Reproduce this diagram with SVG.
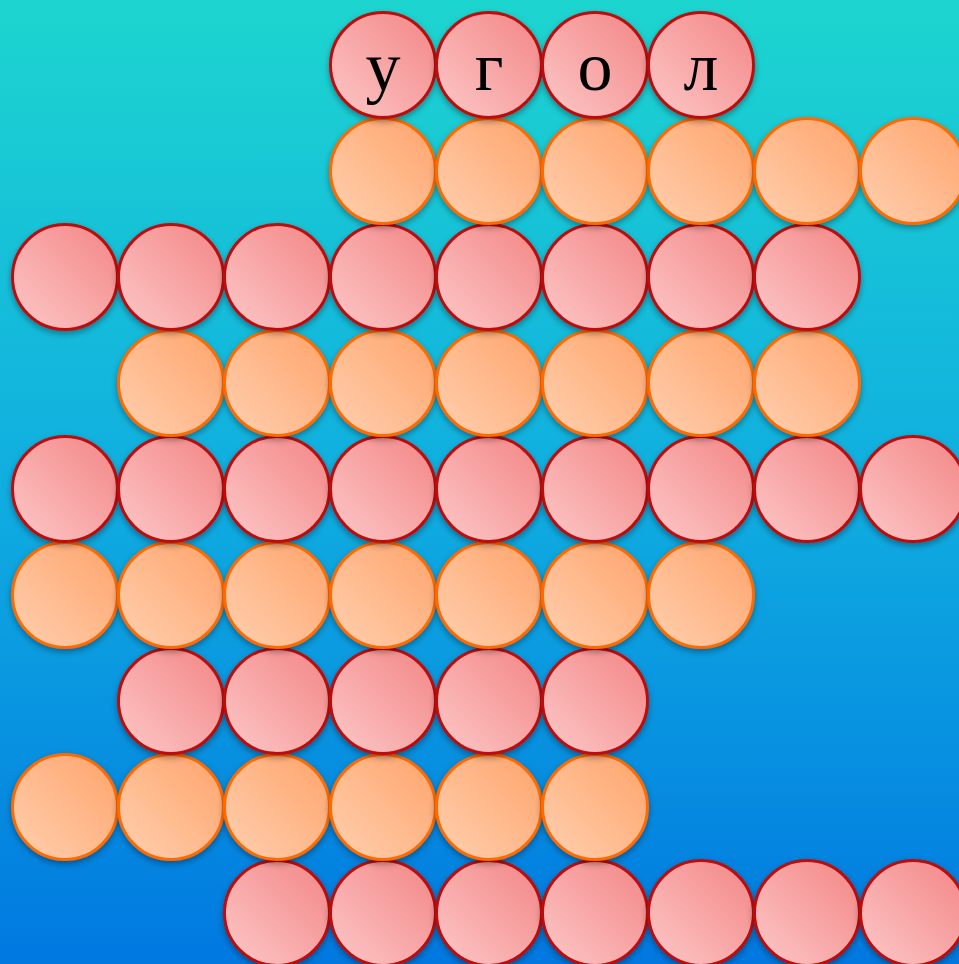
<svg xmlns="http://www.w3.org/2000/svg" width="959" height="964" viewBox="0 0 959 964">
<defs>
<linearGradient id="bg" x1="0" y1="0" x2="0" y2="1">
<stop offset="0" stop-color="#1dd5cf"/>
<stop offset="0.5" stop-color="#10aee0"/>
<stop offset="1" stop-color="#0078e0"/>
</linearGradient>
<linearGradient id="gp" x1="1" y1="0" x2="0" y2="1">
<stop offset="0" stop-color="#f38585"/>
<stop offset="1" stop-color="#fdc8c8"/>
</linearGradient>
<linearGradient id="go" x1="1" y1="0" x2="0" y2="1">
<stop offset="0" stop-color="#ffa36a"/>
<stop offset="1" stop-color="#ffd0b0"/>
</linearGradient>
<filter id="sh" x="-20%" y="-20%" width="140%" height="150%">
<feDropShadow dx="0" dy="3" stdDeviation="3" flood-color="#000" flood-opacity="0.35"/>
</filter>
</defs>
<style>
.p{fill:url(#gp);stroke:#bb0a0a;stroke-width:3;filter:url(#sh)}
.o{fill:url(#go);stroke:#ff6a00;stroke-width:3;filter:url(#sh)}
.t{font-family:"Liberation Serif","DejaVu Serif",serif;font-size:70px;fill:#000;text-anchor:middle}
</style>
<rect width="959" height="964" fill="url(#bg)"/>
<g id="row8">
<circle class="p" cx="277" cy="913" r="52.5"/><circle class="p" cx="383" cy="913" r="52.5"/><circle class="p" cx="489" cy="913" r="52.5"/><circle class="p" cx="595" cy="913" r="52.5"/><circle class="p" cx="701" cy="913" r="52.5"/><circle class="p" cx="807" cy="913" r="52.5"/><circle class="p" cx="913" cy="913" r="52.5"/>
</g>
<g id="row7">
<circle class="o" cx="65" cy="807" r="52.5"/><circle class="o" cx="171" cy="807" r="52.5"/><circle class="o" cx="277" cy="807" r="52.5"/><circle class="o" cx="383" cy="807" r="52.5"/><circle class="o" cx="489" cy="807" r="52.5"/><circle class="o" cx="595" cy="807" r="52.5"/>
</g>
<g id="row6">
<circle class="p" cx="171" cy="701" r="52.5"/><circle class="p" cx="277" cy="701" r="52.5"/><circle class="p" cx="383" cy="701" r="52.5"/><circle class="p" cx="489" cy="701" r="52.5"/><circle class="p" cx="595" cy="701" r="52.5"/>
</g>
<g id="row5">
<circle class="o" cx="65" cy="595" r="52.5"/><circle class="o" cx="171" cy="595" r="52.5"/><circle class="o" cx="277" cy="595" r="52.5"/><circle class="o" cx="383" cy="595" r="52.5"/><circle class="o" cx="489" cy="595" r="52.5"/><circle class="o" cx="595" cy="595" r="52.5"/><circle class="o" cx="701" cy="595" r="52.5"/>
</g>
<g id="row4">
<circle class="p" cx="65" cy="489" r="52.5"/><circle class="p" cx="171" cy="489" r="52.5"/><circle class="p" cx="277" cy="489" r="52.5"/><circle class="p" cx="383" cy="489" r="52.5"/><circle class="p" cx="489" cy="489" r="52.5"/><circle class="p" cx="595" cy="489" r="52.5"/><circle class="p" cx="701" cy="489" r="52.5"/><circle class="p" cx="807" cy="489" r="52.5"/><circle class="p" cx="913" cy="489" r="52.5"/>
</g>
<g id="row3">
<circle class="o" cx="171" cy="383" r="52.5"/><circle class="o" cx="277" cy="383" r="52.5"/><circle class="o" cx="383" cy="383" r="52.5"/><circle class="o" cx="489" cy="383" r="52.5"/><circle class="o" cx="595" cy="383" r="52.5"/><circle class="o" cx="701" cy="383" r="52.5"/><circle class="o" cx="807" cy="383" r="52.5"/>
</g>
<g id="row2">
<circle class="p" cx="65" cy="277" r="52.5"/><circle class="p" cx="171" cy="277" r="52.5"/><circle class="p" cx="277" cy="277" r="52.5"/><circle class="p" cx="383" cy="277" r="52.5"/><circle class="p" cx="489" cy="277" r="52.5"/><circle class="p" cx="595" cy="277" r="52.5"/><circle class="p" cx="701" cy="277" r="52.5"/><circle class="p" cx="807" cy="277" r="52.5"/>
</g>
<g id="row1">
<circle class="o" cx="383" cy="171" r="52.5"/><circle class="o" cx="489" cy="171" r="52.5"/><circle class="o" cx="595" cy="171" r="52.5"/><circle class="o" cx="701" cy="171" r="52.5"/><circle class="o" cx="807" cy="171" r="52.5"/><circle class="o" cx="913" cy="171" r="52.5"/>
</g>
<g id="row0">
<g id="c-u"><circle class="p" cx="383" cy="65" r="52.5"/><text class="t" x="383" y="90">у</text></g>
<g id="c-g"><circle class="p" cx="489" cy="65" r="52.5"/><text class="t" x="489" y="90">г</text></g>
<g id="c-o"><circle class="p" cx="595" cy="65" r="52.5"/><text class="t" x="595" y="90">о</text></g>
<g id="c-l"><circle class="p" cx="701" cy="65" r="52.5"/><text class="t" x="701" y="90">л</text></g>
</g>
</svg>
